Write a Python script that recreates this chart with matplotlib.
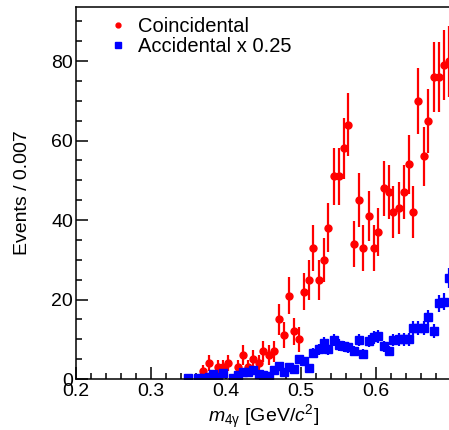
import numpy as np
import matplotlib as mpl
import matplotlib.pyplot as plt
from matplotlib.lines import Line2D

# 字体设置
mpl.rcParams['font.family'] = ['Liberation Sans', 'DejaVu Sans']
mpl.rcParams['mathtext.fontset'] = 'custom'
mpl.rcParams['mathtext.rm'] = 'Liberation Sans'
mpl.rcParams['mathtext.it'] = 'Liberation Sans:italic'

# 直方图: 0.2 - 0.7 共75个bin
x_lo, x_hi, n_bins = 0.2, 0.7, 75
first_bin = 22
# 符合事例 (从 bin 22 开始)
coincidental = [0, 0, 0, 2, 4, 0, 3, 3, 4, 0, 3, 6, 3, 5, 4, 7, 6, 7, 15, 11,
                21, 12, 10, 22, 25, 33, 25, 30, 38, 51, 51, 58, 64, 34, 45, 33,
                41, 33, 37, 48, 47, 42, 43, 47, 54, 42, 70, 56, 65, 76, 76, 79, 80]
# 偶然符合事例 x 0.25
accidental = [0.25, 0, 0.25, 0.25, 0.5, 1.25, 0.5, 1.5, 0, 0.25, 1.0, 1.75, 1.75,
              2.25, 1.25, 1.0, 0.75, 2.25, 3.25, 1.75, 3.0, 2.5, 5.0, 4.5, 2.75,
              6.5, 7.5, 9.0, 7.5, 9.75, 8.5, 8.25, 8.0, 7.0, 9.75, 6.25, 9.5,
              10.5, 10.75, 8.25, 7.0, 9.75, 10.0, 10.0, 10.0, 12.75, 12.75, 12.75,
              15.5, 12.0, 19.0, 19.5, 25.5]
acc_scale = 0.25

width = (x_hi - x_lo) / n_bins
coin = np.array(coincidental, dtype=float)
acc = np.array(accidental, dtype=float)
centers = x_lo + (np.arange(first_bin, first_bin + len(coin)) + 0.5) * width

fig = plt.figure(figsize=(4.49, 4.30), dpi=100)
ax = fig.add_axes([76 / 449, 51 / 430, 375 / 449, 372 / 430])

# 空bin不画
m = coin > 0
ax.errorbar(centers[m], coin[m], yerr=np.sqrt(coin[m]), fmt='o', color='red',
            ms=5, elinewidth=1.6, capsize=0)
m = acc > 0
ax.errorbar(centers[m], acc[m], yerr=acc_scale * np.sqrt(acc[m] / acc_scale),
            fmt='s', color='blue', ms=5.5, elinewidth=1.6, capsize=0)

ax.set_xlim(x_lo, x_hi)
ax.set_ylim(0, 93.6)
ax.set_xticks([0.2, 0.3, 0.4, 0.5, 0.6])
ax.set_xticklabels(['0.2', '0.3', '0.4', '0.5', '0.6'])
ax.set_xticks(np.arange(0.2, 0.7, 0.02), minor=True)
ax.set_yticks([0, 20, 40, 60, 80])
ax.set_yticks(np.arange(0, 93, 5), minor=True)
ax.tick_params(which='both', direction='in', labelsize=14, width=1.1)
ax.tick_params(which='major', length=8.5)
ax.tick_params(which='minor', length=4.3)
ax.tick_params(axis='y', pad=2)
ax.tick_params(axis='x', pad=3)
for s in ax.spines.values():
    s.set_linewidth(1.1)

ax.set_ylabel('Events / 0.007', fontsize=14, labelpad=15)
ax.set_xlabel(r'$m_{\mathrm{4γ}}$ [GeV/$c^2$]', fontsize=14, labelpad=2)

# 图例只画标记
handles = [Line2D([], [], ls='none', marker='o', color='red', ms=3.5),
           Line2D([], [], ls='none', marker='s', color='blue', ms=4)]
ax.legend(handles, ['Coincidental', 'Accidental x 0.25'], loc='upper left',
          bbox_to_anchor=(108 / 449, 1 - 17 / 430), bbox_transform=fig.transFigure,
          frameon=False, fontsize=14.5, handlelength=1.0, handletextpad=0.5,
          labelspacing=0.05, borderpad=0, borderaxespad=0)

fig.savefig('out.png', dpi=100)
